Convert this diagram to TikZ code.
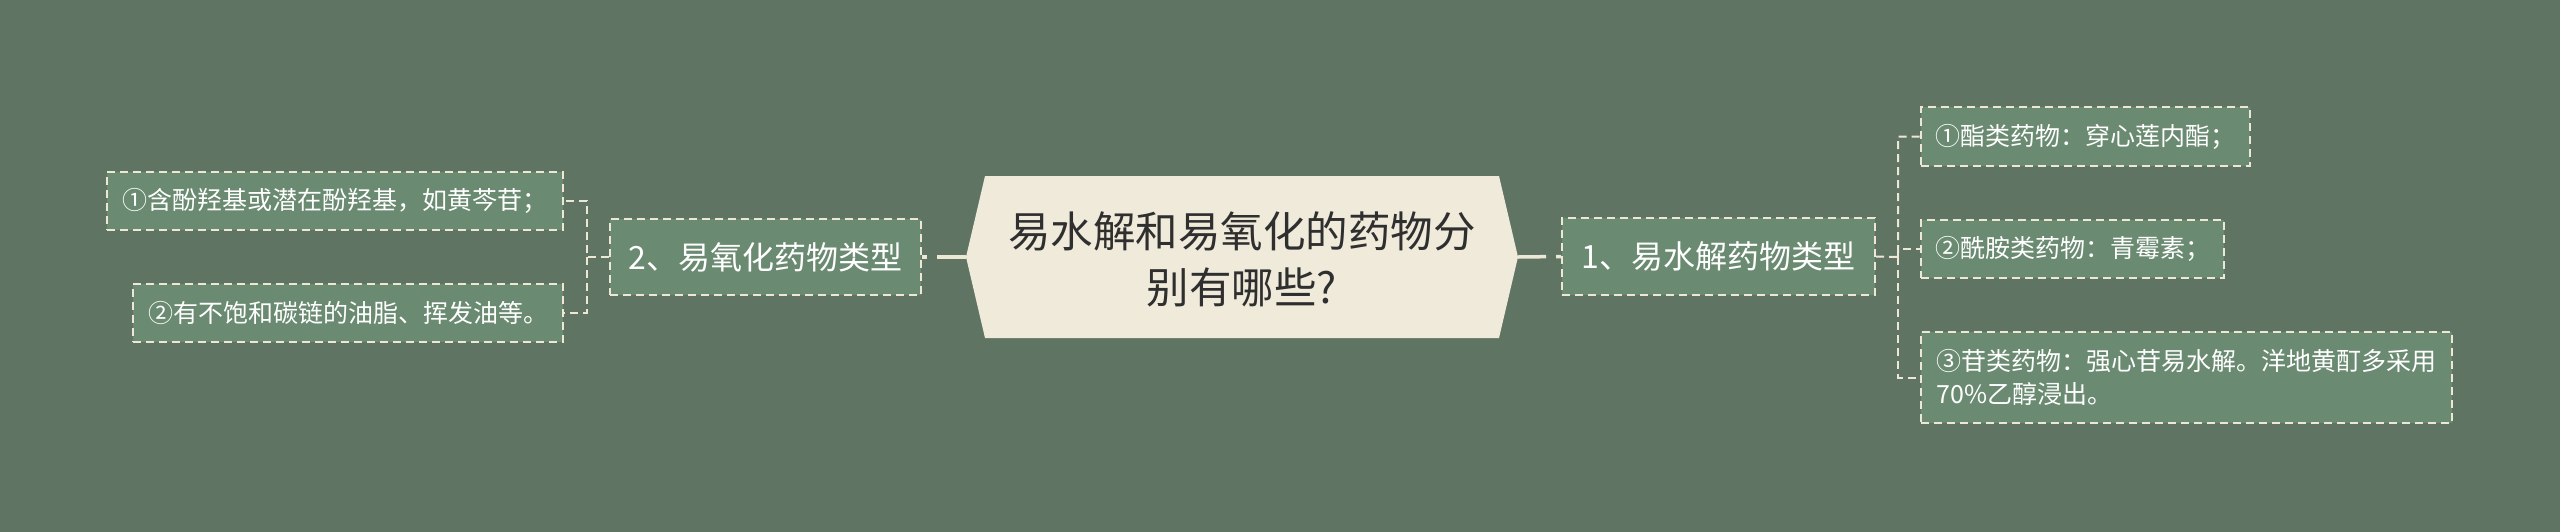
\documentclass[tikz,border=0pt]{standalone}
\usepackage{fontspec}
\setmainfont{Noto Sans CJK SC}
\usetikzlibrary{calc}
\definecolor{bg}{HTML}{5F7463}
\definecolor{boxfill}{HTML}{6A8A71}
\definecolor{hexfill}{HTML}{EFEADA}
\definecolor{linec}{HTML}{EDE8D6}
\definecolor{ctext}{HTML}{2F2F2F}
\tikzset{
  tbox/.style={draw=linec, fill=boxfill, line width=2pt, dash pattern=on 8pt off 5pt,
    text=white, inner sep=0pt, anchor=center},
  pbox/.style={tbox, font=\fontsize{32}{40}\selectfont},
  cbox/.style={tbox, font=\fontsize{25}{33}\selectfont},
  elbow/.style={draw=linec, line width=2pt, dash pattern=on 8pt off 5pt},
  trunk/.style={draw=linec, line width=3.5pt, dash pattern=on 5pt off 10pt on 200pt},
}
\begin{document}
\begin{tikzpicture}[x=1pt,y=-1pt]
\path[use as bounding box] (0,0) rectangle (2560,531);
\fill[bg] (-20,-20) rectangle (2580,551);
% central hexagon
\coordinate (hexL) at (966,257);
\coordinate (hexR) at (1518,257);
\fill[hexfill] (985,176) -- (1499,176) -- (hexR) -- (1499,338) -- (985,338) -- (hexL) -- cycle;
\node[text=ctext, font=\fontsize{42.5}{56}\selectfont, align=center] (root) at (1242,259)
  {易水解和易氧化的药物分\\别有哪些?};
% left branch
\node[pbox, minimum width=311pt, minimum height=76pt] (p2) at (765.5,257) {2、易氧化药物类型};
\node[cbox, minimum width=456pt, minimum height=58pt] (l1) at (335,201) {①含酚羟基或潜在酚羟基，如黄芩苷；};
\node[cbox, minimum width=430pt, minimum height=58pt] (l2) at (348,313) {②有不饱和碳链的油脂、挥发油等。};
% right branch
\node[pbox, minimum width=313pt, minimum height=77pt] (p1) at (1718.5,256.5) {1、易水解药物类型};
\node[cbox, minimum width=329pt, minimum height=59pt] (r1) at (2085.5,136.5) {①酯类药物：穿心莲内酯；};
\node[cbox, minimum width=303pt, minimum height=58pt] (r2) at (2072.5,249) {②酰胺类药物：青霉素；};
\node[cbox, minimum width=531pt, minimum height=91pt, align=left] (r3) at (2186.5,377.5)
  {③苷类药物：强心苷易水解。洋地黄酊多采用\\70\%乙醇浸出。};
% trunks
\draw[trunk] (p2.east) -- (hexL);
\draw[trunk] (p1.west) -- (hexR);
% elbows
\coordinate (lj) at (587,257);
\coordinate (rj) at (1898,257);
\draw[elbow] (p2.west) -- (lj) |- (l1.east);
\draw[elbow] (lj) |- (l2.east);
\draw[elbow] (p1.east) -- (rj) |- (r1.west);
\draw[elbow] (rj) |- (r2.west);
\draw[elbow] (rj) |- (r3.west);
\end{tikzpicture}
\end{document}
